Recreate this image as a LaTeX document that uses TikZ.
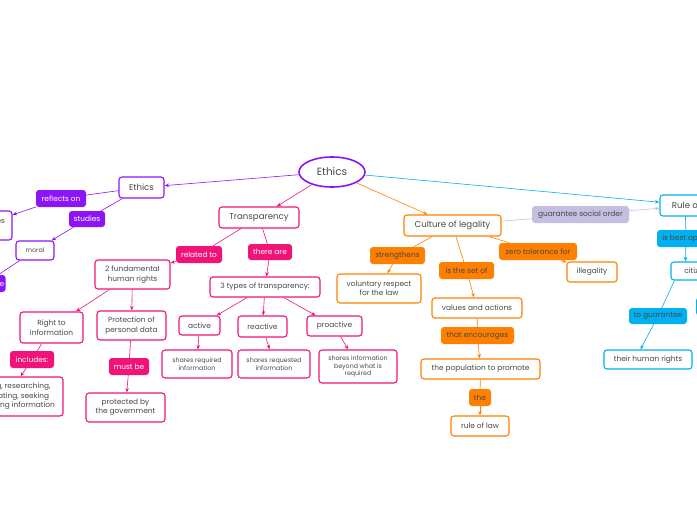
\documentclass[tikz,border=0pt]{standalone}
\usepackage{fontspec}
\setmainfont{Poppins}
\usetikzlibrary{shapes.geometric,arrows.meta,positioning}
\definecolor{purp}{RGB}{140,20,245}
\definecolor{pinkc}{RGB}{240,20,120}
\definecolor{orng}{RGB}{255,128,0}
\definecolor{bluec}{RGB}{0,176,240}
\definecolor{lavc}{RGB}{196,190,224}
\definecolor{txt}{RGB}{72,72,72}
\def\fbig{\fontsize{10.5}{12}\selectfont}
\def\fmain{\fontsize{8.6}{10}\selectfont}
\def\fmid{\fontsize{7.4}{9.5}\selectfont}
\def\fsm{\fontsize{6.3}{7.8}\selectfont}

\tikzset{
  box/.style={draw, rounded corners=3pt, line width=1.1pt, fill=white, text=txt, align=center, inner sep=1pt, font=\fmid},
  tag/.style={rounded corners=3pt, inner sep=1pt, align=center, text=txt, font=\fmid},
  link/.style={line width=0.6pt},
  arr/.style={link, -{Stealth[length=4.5pt,width=3.5pt]}},
}

\begin{document}
\begin{tikzpicture}[x=1pt,y=-1pt]
\useasboundingbox (0,0) rectangle (697,520);
\fill[white] (0,0) rectangle (697,520);
\clip (0,0) rectangle (697,520);

% Centre
\node[ellipse, draw=purp, line width=1.6pt, fill=white, text=txt, font=\fbig, minimum width=66, minimum height=30] (ethics) at (332,172) {Ethics};

% Ethics branch
\node[box, draw=purp, font=\fmain, minimum width=45, minimum height=21] (ethicsbox) at (141.5,187.5) {Ethics};
\node[tag, fill=purp, text=white, minimum width=50, minimum height=17] (reflects) at (61,198.5) {reflects on};
\node[box, draw=purp, minimum width=62, minimum height=29] (values) at (-19,225.5) {moral values\\ of life};
\node[tag, fill=purp, text=white, minimum width=36, minimum height=16] (studies) at (87,219) {studies};
\node[box, draw=purp, font=\fsm, minimum width=38, minimum height=19] (moral) at (35,250.5) {moral};
\node[tag, fill=purp, text=white, minimum width=41, minimum height=17] (determine) at (-15,283.5) {determine};

% Transparency branch
\node[box, draw=pinkc, font=\fmain, minimum width=80, minimum height=21] (transp) at (259,217.5) {Transparency};
\node[tag, fill=pinkc, text=white, minimum width=46, minimum height=17] (related) at (199,254.5) {related to};
\node[tag, fill=pinkc, text=white, minimum width=44, minimum height=16] (thereare) at (270,252) {there are};
\node[box, draw=pinkc, minimum width=75, minimum height=29] (rights) at (132.5,274.5) {2 fundamental\\ human rights};
\node[box, draw=pinkc, minimum width=110, minimum height=20] (types) at (265,287) {3 types of transparency:};
\node[box, draw=pinkc, minimum width=63, minimum height=31] (rightinfo) at (51.5,327.5) {Right to\\ information};
\node[tag, fill=pinkc, text=white, minimum width=44, minimum height=17] (includes) at (32,359.5) {includes:};
\node[box, draw=pinkc, minimum width=112, minimum height=39] (access) at (7,396.5) {Accessing, researching,\\ disseminating, seeking\\ and receiving information};
\node[box, draw=pinkc, minimum width=69, minimum height=29] (protect) at (131.5,325.5) {Protection of\\ personal data};
\node[tag, fill=pinkc, text=white, minimum width=40, minimum height=17] (mustbe) at (129,366.5) {must be};
\node[box, draw=pinkc, minimum width=79, minimum height=29] (protected) at (125.5,407.5) {protected by\\ the government};
\node[box, draw=pinkc, minimum width=41, minimum height=19] (active) at (199.5,325.5) {active};
\node[box, draw=pinkc, minimum width=49, minimum height=21] (reactive) at (262.5,326.5) {reactive};
\node[box, draw=pinkc, minimum width=55, minimum height=20] (proactive) at (334.5,326) {proactive};
\node[box, draw=pinkc, font=\fsm, minimum width=70, minimum height=28] (sreq) at (197,364) {shares required\\ information};
\node[box, draw=pinkc, font=\fsm, minimum width=72, minimum height=28] (sreqd) at (274,364) {shares requested\\ information};
\node[box, draw=pinkc, font=\fsm, minimum width=78, minimum height=33] (sbey) at (358,366.5) {shares information\\ beyond what is\\ required};

% Culture of legality branch
\node[box, draw=orng, font=\fmain, minimum width=97, minimum height=21] (culture) at (452.5,225.5) {Culture of legality};
\node[tag, fill=orng, minimum width=55, minimum height=17] (strength) at (397.5,255.5) {strengthens};
\node[box, draw=orng, minimum width=84, minimum height=29] (volun) at (379,288.5) {voluntary respect\\ for the law};
\node[tag, fill=orng, minimum width=55, minimum height=17] (isset) at (466.5,270.5) {is the set of};
\node[box, draw=orng, minimum width=90, minimum height=20] (valact) at (477,308) {values and actions};
\node[tag, fill=orng, minimum width=73, minimum height=17] (encour) at (477.5,335.5) {that encourages};
\node[box, draw=orng, minimum width=119, minimum height=20] (popul) at (480.5,369) {the population to promote};
\node[tag, fill=orng, minimum width=22, minimum height=17] (the) at (480,397.5) {the};
\node[box, draw=orng, minimum width=58, minimum height=20] (rule) at (480,426) {rule of law};
\node[tag, fill=orng, minimum width=78, minimum height=17] (zero) at (538,251.5) {zero tolerance for};
\node[box, draw=orng, minimum width=50, minimum height=20] (illeg) at (592,272) {illegality};
\node[tag, fill=lavc, minimum width=97, minimum height=17] (guar) at (580.5,214.5) {guarantee social order};

% Rule of law branch
\node[box, draw=bluec, font=\fmain, minimum width=70, minimum height=21] (rolaw) at (695,205.5) {Rule of law};
\node[tag, fill=bluec, minimum width=72, minimum height=17] (isbest) at (693,238.5) {is best option for};
\node[box, draw=bluec, minimum width=54, minimum height=18] (citiz) at (698,271) {citizens};
\node[tag, fill=bluec, minimum width=58, minimum height=16] (toguar) at (658,316) {to guarantee};
\node[box, draw=bluec, minimum width=88, minimum height=19] (thr) at (648,359.5) {their human rights};
\node[tag, fill=bluec, minimum width=40, minimum height=18] (bluetag) at (716,306.5) {};

% Connectors
\draw[arr, purp] (ethics) -- (ethicsbox);
\draw[link, purp] (ethicsbox) -- (reflects);
\draw[arr, purp] (reflects) -- (values);
\draw[link, purp] (ethicsbox) -- (studies);
\draw[arr, purp] (studies) -- (moral);
\draw[link, purp] (moral) -- (determine);

\draw[arr, pinkc] (ethics) -- (transp);
\draw[link, pinkc] (transp) -- (related);
\draw[arr, pinkc] (related) -- (rights);
\draw[link, pinkc] (transp) -- (thereare);
\draw[arr, pinkc] (thereare) -- (types);
\draw[arr, pinkc] (rights) -- (rightinfo);
\draw[arr, pinkc] (rights) -- (protect);
\draw[link, pinkc] (rightinfo) -- (includes);
\draw[arr, pinkc] (includes) -- (access);
\draw[link, pinkc] (protect) -- (mustbe);
\draw[arr, pinkc] (mustbe) -- (protected);
\foreach \t/\s in {active/sreq, reactive/sreqd, proactive/sbey} {
  \draw[arr, pinkc] (types) -- (\t);
  \draw[arr, pinkc] (\t) -- (\s);
}

\draw[arr, orng] (ethics) -- (culture);
\draw[link, orng] (culture) -- (strength);
\draw[arr, orng] (strength) -- (volun);
\draw[link, orng] (culture) -- (isset);
\draw[arr, orng] (isset) -- (valact);
\draw[link, orng] (valact) -- (encour);
\draw[arr, orng] (encour) -- (popul);
\draw[link, orng] (popul) -- (the);
\draw[arr, orng] (the) -- (rule);
\draw[link, orng] (culture) -- (zero);
\draw[arr, orng] (zero) -- (illeg);
\draw[link, lavc] (culture) -- (guar);
\draw[arr, lavc] (guar) -- (rolaw);

\draw[arr, bluec] (ethics) -- (rolaw);
\draw[link, bluec] ([xshift=26pt]rolaw.south west) -- ([xshift=29pt]isbest.north west);
\draw[arr, bluec] ([xshift=29pt]isbest.south west) -- ([xshift=15pt]citiz.north west);
\draw[link, bluec] ([xshift=4pt]citiz.south west) -- (toguar);
\draw[arr, bluec] (toguar) -- ([xshift=37pt]thr.north west);
\end{tikzpicture}
\end{document}
